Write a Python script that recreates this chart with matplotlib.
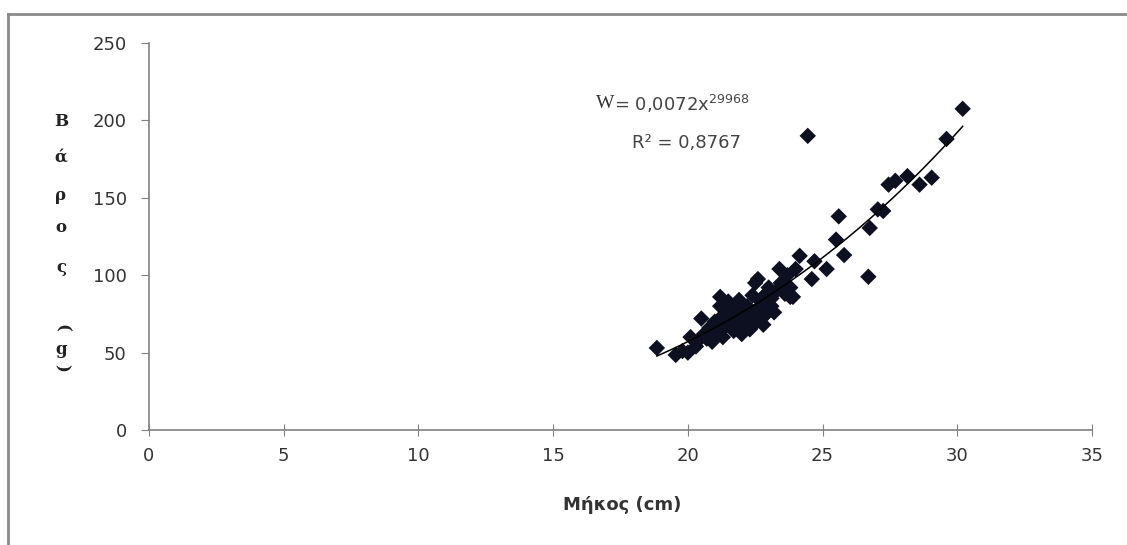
import numpy as np
import matplotlib
matplotlib.use('Agg')
import matplotlib.pyplot as plt
from matplotlib.lines import Line2D

length_cm = [18.85, 19.55, 19.8, 20.0, 20.3, 20.1, 20.4, 20.6, 20.5, 20.8,
             20.9, 21.0, 21.1, 21.2, 21.3, 21.3, 21.4, 21.5, 21.5, 21.6,
             21.7, 21.7, 21.8, 21.9, 21.9, 22.0, 22.0, 22.1, 22.2, 22.3,
             22.4, 22.5, 22.5, 22.6, 22.6, 22.7, 22.8, 22.9, 23.0, 23.0,
             23.1, 23.2, 23.3, 23.4, 23.45, 23.6, 23.7, 23.8, 23.9, 24.0,
             24.15, 24.6, 24.7, 25.15, 24.45, 25.5, 25.6, 25.8, 26.7, 26.75,
             27.05, 27.25, 27.45, 27.7, 28.15, 28.6, 29.05, 29.6, 30.2, 21.2,
             22.3, 23.1, 23.8, 21.0, 20.7, 22.8]
weight_g = [53, 48.5, 51, 50, 54, 60, 58, 62, 72, 66,
            57, 70, 63, 80, 74, 60, 67, 77, 83, 70,
            64, 79, 73, 68, 84, 76, 62, 71, 80, 74,
            87, 69, 95, 78, 97.5, 83, 73, 88, 79, 92,
            85, 76, 90, 104, 95, 88, 100, 92, 86, 104,
            112.5, 97.5, 109, 104, 190, 123, 138, 113, 99, 130.5,
            142.5, 141.5, 158.5, 161, 164, 158.5, 163, 188, 207.5, 86,
            65, 80, 86, 66, 59, 68]

# power trend line shown on the chart
coef_a, coef_b = 0.0072, 2.9968

W, H = 1127, 545
fig = plt.figure(figsize=(W / 100, H / 100), dpi=100)
ax = fig.add_axes([149 / W, 1 - 430 / H, (1092 - 149) / W, (430 - 43) / H])

ax.scatter(length_cm, weight_g, marker='D', s=70, color='#0c1020',
           edgecolors='none', zorder=3)

xs = np.linspace(min(length_cm), max(length_cm), 200)
ax.plot(xs, coef_a * xs ** coef_b, color='black', lw=1.1, zorder=4)

ax.set_xlim(0, 35)
ax.set_ylim(0, 250)
ax.set_xticks(range(0, 36, 5))
ax.set_yticks(range(0, 251, 50))
for s in ['top', 'right']:
    ax.spines[s].set_visible(False)
for s in ['left', 'bottom']:
    ax.spines[s].set_color('#808080')
    ax.spines[s].set_linewidth(1.2)
ax.tick_params(axis='x', direction='inout', length=9, color='#808080',
               labelsize=13, labelcolor='#333333', pad=8)
ax.tick_params(axis='y', direction='out', length=6, color='#808080',
               labelsize=13, labelcolor='#333333', pad=10)

# equation and R^2
fig.text(596 / W, 1 - 104 / H, 'W', family='Liberation Serif', fontsize=14,
         color='#333333', va='center', ha='left')
fig.text(614 / W, 1 - 104 / H, '= 0,0072x$^{29968}$', fontsize=13,
         color='#444444', va='center', ha='left')
fig.text(686 / W, 1 - 143 / H, 'R² = 0,8767', fontsize=13,
         color='#444444', va='center', ha='center')

# x axis title
fig.text(622 / W, 1 - 505 / H, 'Μήκος (cm)', fontsize=13, fontweight='bold',
         color='#333333', ha='center', va='center')

# stacked y axis title "Βάρος (g)"
ylab = [('Β', 122, 0), ('ά', 157, 0), ('ρ', 195, 0), ('ο', 227, 0),
        ('ς', 267, 0), ('(', 328, -90), ('g', 350, 0), (')', 368, -90)]
for ch, py, rot in ylab:
    fig.text(61 / W, 1 - py / H, ch, fontsize=12, fontweight='bold',
             family='DejaVu Serif', color='#222222', ha='center',
             va='center', rotation=rot)

# chart area border (top and left edges visible)
fig.add_artist(Line2D([8 / W, 1], [1 - 14 / H, 1 - 14 / H], color='#8a8a8a',
                      lw=2, transform=fig.transFigure))
fig.add_artist(Line2D([8 / W, 8 / W], [0, 1 - 14 / H], color='#8a8a8a',
                      lw=2, transform=fig.transFigure))

fig.savefig('out.png', dpi=100)
